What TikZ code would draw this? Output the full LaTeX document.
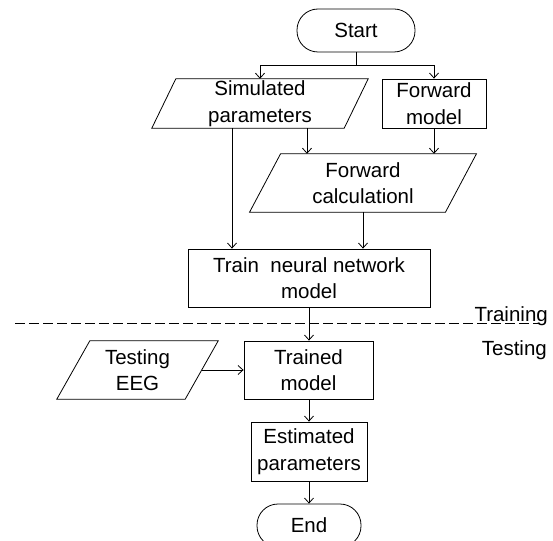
\documentclass[tikz,border=0pt]{standalone}
\usepackage{fontspec}
\setmainfont{Liberation Sans}
\usetikzlibrary{arrows.meta,calc}

\begin{document}
\begin{tikzpicture}[x=1pt,y=-1pt,
  every node/.style={font=\fontsize{20.5}{26.5}\selectfont, align=center, inner sep=0pt},
  line/.style={line width=0.8pt, draw=black},
  arr/.style={line, -{Straight Barb[length=5pt,width=9pt,line width=0.8pt]}},
  procbox/.style={line, rectangle, minimum width=#1},
  iobox/.style={rectangle, minimum width=#1},
  termbox/.style={line, rectangle, rounded corners=21pt, minimum width=#1, minimum height=43pt},
]
\clip (0,0) rectangle (553,540);

% terminals
\node[termbox=118] (start) at (356,30.5) {Start};
\node[termbox=104] (end) at (309,525.5) {End};

% process boxes
\node[procbox=104, minimum height=49pt] (fm) at (434,103.5) {Forward\\model};
\node[procbox=242, minimum height=58pt] (train) at (309,278) {Train\ \ neural network\\model};
\node[procbox=129, minimum height=58pt] (tm) at (308.5,370) {Trained\\model};
\node[procbox=116, minimum height=59pt] (est) at (309,451.5) {Estimated\\parameters};

% data (parallelogram) boxes: text holders, outlines drawn below
\node[iobox=192, minimum height=49pt] (sim) at (260,103.5) {Simulated\\parameters};
\node[iobox=195.5, minimum height=58pt] (fc) at (363,183) {Forward\\calculationl};
\node[iobox=128, minimum height=58pt] (eeg) at (137.5,370) {Testing\\EEG};

\foreach \n/\s in {sim/12, fc/15.5, eeg/16.5}{
  \draw[line] ([xshift=\s pt]\n.north west) -- ([xshift=\s pt]\n.north east)
    -- ([xshift=-\s pt]\n.south east) -- ([xshift=-\s pt]\n.south west) -- cycle;
}

% connectors
\draw[line] (start.south) -- ++(0,13.5) coordinate (fork);
\draw[arr] (fork) -| (sim.north);
\draw[arr] (fork) -| (fm.north);
\draw[arr] (sim.south -| 307,0) -- (fc.north -| 307,0);
\draw[arr] (fm.south) -- (fc.north -| fm.south);
\draw[arr] (sim.south -| 232,0) -- (train.north -| 232,0);
\draw[arr] (fc.south) -- (train.north -| fc.south);
\draw[arr] (train.south) -- (train.south |- tm.north);
\draw[arr] (eeg.east) -- (tm.west);
\draw[arr] (tm.south -| train.south) -- (est.north);
\draw[arr] (est.south) -- (end.north);

% training / testing separator
\coordinate (sepL) at (15,323);
\coordinate (sepR) at (540,323);
\draw[line, dash pattern=on 10pt off 4pt] (sepL) -- (sepR);
\node[anchor=base east] (trainlbl) at (548,321) {Training};
\node[anchor=base east] (testlbl) at (547,355) {Testing};
\end{tikzpicture}
\end{document}
